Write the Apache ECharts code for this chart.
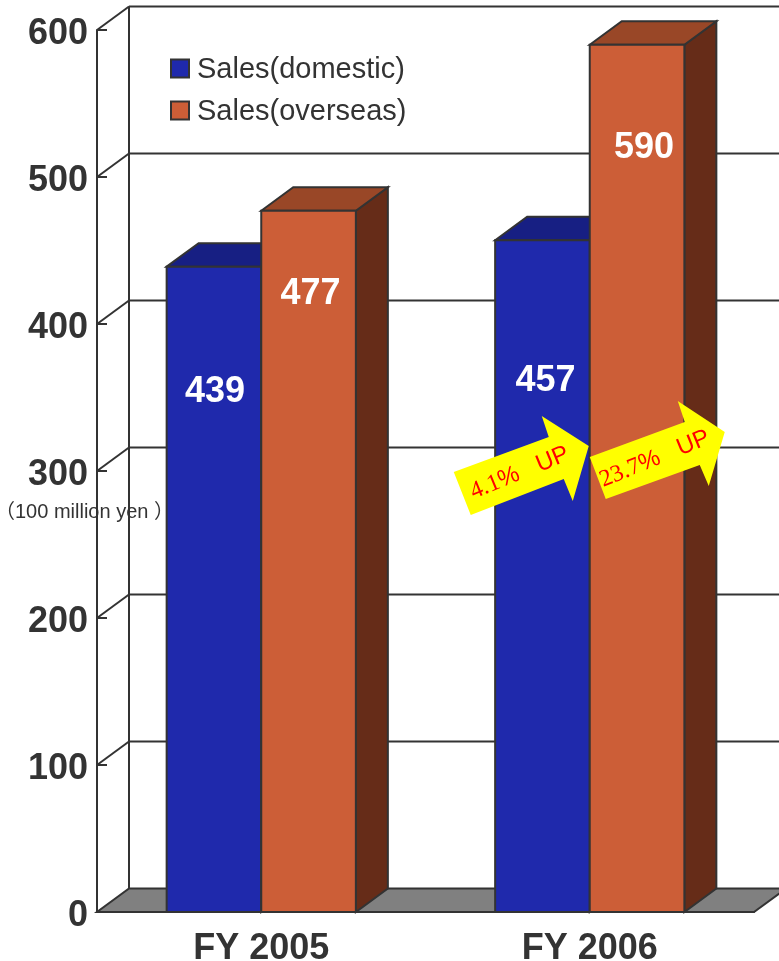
<!DOCTYPE html>
<html>
<head>
<meta charset="utf-8">
<style>html,body{margin:0;padding:0;background:#fff}#c{width:779px;height:961px}</style>
<script src="https://cdn.jsdelivr.net/npm/echarts@6/dist/echarts.min.js"></script>
</head>
<body>
<div id="c"></div>
<script>
const categories = ['FY 2005', 'FY 2006'];
const domestic = [439, 457];
const overseas = [477, 590];
const yTicks = [0, 100, 200, 300, 400, 500, 600];
const seriesNames = ['Sales(domestic)', 'Sales(overseas)'];
const unitLabel = '（100 million yen ）';
const growthNumbers = ['4.1', '23.7'];

// ---- layout and style ----
const DX = 32, DY = -23.5;
const INK = '#333333';
const BAR_RATIO = 0.288;
const labelValue = { 'Sales(domestic)': [353.5, 361], 'Sales(overseas)': [420.5, 519.5] };
const labelShift = { 'Sales(domestic)': [1, 3], 'Sales(overseas)': [2, 7] };
const palette = {
  'Sales(domestic)': { front: '#1F29AC', top: '#171F83', side: '#171F83', dir: -1 },
  'Sales(overseas)': { front: '#CC5E37', top: '#994727', side: '#662C18', dir: 0 }
};
const line = { stroke: INK, lineWidth: 2, fill: null };

function renderWalls(params, api) {
  const v = api.value(0);
  const p = api.coord([0, v]);
  const x0 = params.coordSys.x, x1 = x0 + params.coordSys.width;
  const y = p[1];
  const kids = [];
  if (v === 0) {
    kids.push({ type: 'polygon', shape: { points: [[x0, y], [x1, y], [x1 + DX, y + DY], [x0 + DX, y + DY]] },
      style: { fill: '#808080', stroke: INK, lineWidth: 2 } });
    const top = api.coord([0, yTicks[yTicks.length - 1]])[1];
    kids.push({ type: 'line', shape: { x1: x0 + DX, y1: y + DY, x2: x0 + DX, y2: top + DY }, style: line });
  } else {
    kids.push({ type: 'line', shape: { x1: x0 + DX, y1: y + DY, x2: x1 + DX, y2: y + DY }, style: line });
    kids.push({ type: 'line', shape: { x1: x0, y1: y, x2: x0 + DX, y2: y + DY }, style: line });
  }
  return { type: 'group', children: kids };
}

function renderBar(params, api) {
  const name = params.seriesName;
  const c = palette[name];
  const i = api.value(0);
  const top = api.coord([i, api.value(1)]);
  const base = api.coord([i, 0]);
  const w = api.size([1, 0])[0] * BAR_RATIO;
  const l = top[0] + c.dir * w, r = l + w, t = top[1], b = base[1];
  const s = { stroke: INK, lineWidth: 2, lineJoin: 'miter' };
  const ly = api.coord([i, labelValue[name][i]])[1];
  return { type: 'group', children: [
    { type: 'polygon', shape: { points: [[r, t], [r + DX, t + DY], [r + DX, b + DY], [r, b]] }, style: Object.assign({ fill: c.side }, s) },
    { type: 'polygon', shape: { points: [[l, t], [l + DX, t + DY], [r + DX, t + DY], [r, t]] }, style: Object.assign({ fill: c.top }, s) },
    { type: 'rect', shape: { x: l, y: t, width: w, height: b - t }, style: Object.assign({ fill: c.front }, s) },
    { type: 'text', x: (l + r) / 2 + labelShift[name][i], y: ly, style: {
        text: String(api.value(1)), fill: '#fff', font: 'bold 36px "Liberation Sans"', align: 'center', verticalAlign: 'middle' } }
  ] };
}

// Arrow outlines relative to the anchor point (FY 2006 centre, value 300).
const arrowShapes = [
  [[-119, 44], [-136, 1], [-41, -34], [-48, -55], [-1, -25], [-17, 30], [-26, 8]],
  [[16, 28], [0, -14], [95, -49], [88, -70], [135, -39], [119, 15], [110, -6]]
];
const arrowText = [[-70, 2], [65, -12]];

function renderArrow(params, api) {
  const k = params.dataIndex;
  const a = api.coord([1, 300]);
  const pts = arrowShapes[k].map(p => [a[0] + p[0], a[1] + p[1]]);
  return { type: 'group', children: [
    { type: 'polygon', shape: { points: pts }, style: { fill: '#FFFF00' } },
    { type: 'text', x: a[0] + arrowText[k][0], y: a[1] + arrowText[k][1], rotation: 0.39, style: {
        text: '{n|' + growthNumbers[k] + '}{s|%   UP}', align: 'center', verticalAlign: 'middle',
        rich: {
          n: { font: '24px "Liberation Serif"', fill: '#FF0000' },
          s: { font: '24px "Liberation Sans"', fill: '#FF0000' }
        } } }
  ] };
}

const chart = echarts.init(document.getElementById('c'), null, { renderer: 'canvas' });
chart.setOption({
  animation: false,
  backgroundColor: '#fff',
  grid: { left: 97, right: 25, top: 30, bottom: 49, containLabel: false, outerBoundsMode: 'none' },
  legend: {
    data: seriesNames, orient: 'vertical', left: 170, top: 55, icon: 'rect',
    itemWidth: 18, itemHeight: 18, itemGap: 13, padding: 0,
    formatter: name => '{t|' + name + '}',
    textStyle: { rich: { t: { fontFamily: 'Liberation Sans', fontSize: 29, color: INK, padding: [2, 0, 0, 3] } } },
    itemStyle: { borderColor: INK, borderWidth: 2 }
  },
  xAxis: {
    type: 'category', data: categories, z: 5,
    axisLine: { lineStyle: { color: INK, width: 2 } },
    axisTick: { inside: true, length: 10, lineStyle: { color: INK, width: 2 } },
    axisLabel: { fontFamily: 'Liberation Sans', fontWeight: 'bold', fontSize: 36, color: INK, margin: 19 }
  },
  yAxis: {
    type: 'value', min: 0, max: 600, interval: 100, z: 5,
    axisLine: { show: true, lineStyle: { color: INK, width: 2 } },
    axisTick: { show: true, inside: true, length: 10, lineStyle: { color: INK, width: 2 } },
    splitLine: { show: false },
    axisLabel: { margin: 9, formatter: v => '{t|' + v + '}',
      rich: { t: { fontFamily: 'Liberation Sans', fontWeight: 'bold', fontSize: 36, color: INK, padding: [8, 0, 0, 0] } } }
  },
  series: [
    { type: 'custom', name: 'walls', z: 1, clip: false, silent: true, renderItem: renderWalls,
      encode: { y: 0 }, data: yTicks.map(v => [v]) },
    { type: 'custom', name: seriesNames[0], z: 2, itemStyle: { color: palette[seriesNames[0]].front },
      renderItem: renderBar, encode: { x: 0, y: 1 }, data: domestic.map((v, i) => [i, v]) },
    { type: 'custom', name: seriesNames[1], z: 3, itemStyle: { color: palette[seriesNames[1]].front },
      renderItem: renderBar, encode: { x: 0, y: 1 }, data: overseas.map((v, i) => [i, v]) },
    { type: 'custom', name: 'growth', z: 6, silent: true, renderItem: renderArrow,
      encode: { x: 0, y: 1 }, data: growthNumbers.map(() => [1, 300]) }
  ],
  graphic: [
    { type: 'text', left: -5, top: 502, z: 20, style: { text: unitLabel, font: '20px "Liberation Sans", "Noto Sans CJK JP"', fill: INK } }
  ]
});
</script>
</body>
</html>
